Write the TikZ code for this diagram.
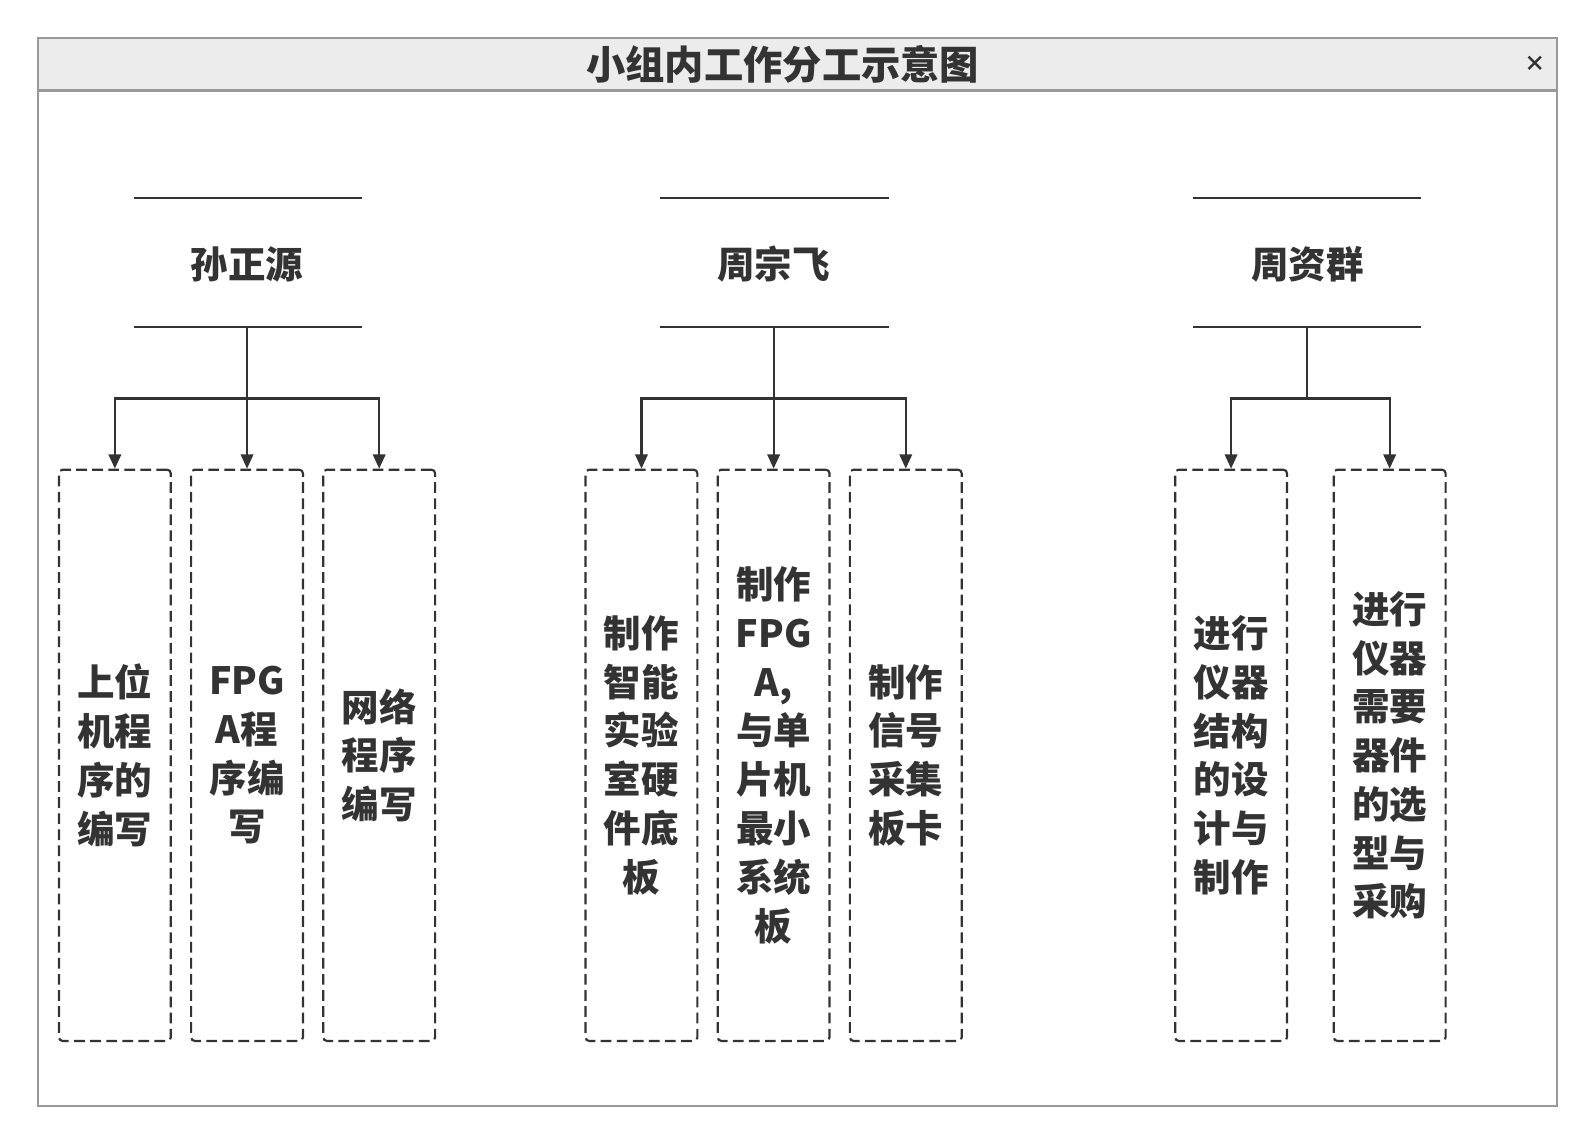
\documentclass[tikz,border=0pt]{standalone}
\usepackage{fontspec}
\setmainfont{Noto Sans CJK SC}[BoldFont={* Black}]
\usetikzlibrary{arrows.meta}
\definecolor{ink}{HTML}{333333}
\begin{document}
\begin{tikzpicture}[x=0.02cm,y=-0.02cm,
  txt/.style={text=ink,font=\fontsize{21}{27.3}\selectfont\bfseries,align=center},
  box/.style={draw=ink,line width=1.2pt,dash pattern=on 6pt off 3pt,rounded corners=2pt,minimum width=2.2cm,minimum height=11.24cm,inner sep=0pt,txt},
  rule/.style={draw=ink,line width=1.2pt},
  arr/.style={draw=ink,line width=1.2pt,-{Triangle[length=8pt,width=7pt]}}]
\useasboundingbox (0,0) rectangle (1568,1125);
\fill[white] (0,0) rectangle (1568,1125);
\draw[draw=gray!80,fill=gray!15,line width=1.2pt] (37,37) rectangle (1532,89);
\draw[draw=gray!80,line width=1.2pt] (37,89) rectangle (1532,1088);
\node[txt,font=\fontsize{22}{27}\selectfont\bfseries] (title) at (770,63) {小组内工作分工示意图};
\node[text=ink,font=\bfseries\large] (close) at (1510,63) {×};
% group names
\node[txt] (g1) at (243,260) {孙正源};
\node[txt] (g2) at (761,260) {周宗飞};
\node[txt] (g3) at (1286,260) {周资群};
\coordinate (g1t1) at (132,195); \coordinate (g1t2) at (356,195);
\coordinate (g1b1) at (132,322); \coordinate (g1b2) at (356,322);
\coordinate (g2t1) at (649,195); \coordinate (g2t2) at (874,195);
\coordinate (g2b1) at (649,322); \coordinate (g2b2) at (874,322);
\coordinate (g3t1) at (1174,195); \coordinate (g3t2) at (1398,195);
\coordinate (g3b1) at (1174,322); \coordinate (g3b2) at (1398,322);
\draw[rule] (g1t1)--(g1t2) (g1b1)--(g1b2) (g2t1)--(g2t2) (g2b1)--(g2b2) (g3t1)--(g3t2) (g3b1)--(g3b2);
% boxes
\node[box] (b1) at (113,743) {上位\\机程\\序的\\编写};
\node[box] (b2) at (243,743) {FPG\\A程\\序编\\写};
\node[box] (b3) at (373,743) {网络\\程序\\编写};
\node[box] (b4) at (631,743) {制作\\智能\\实验\\室硬\\件底\\板};
\node[box] (b5) at (761,743) {制作\\FPG\\A,\\与单\\片机\\最小\\系统\\板};
\node[box] (b6) at (891,743) {制作\\信号\\采集\\板卡};
\node[box] (b7) at (1211,743) {进行\\仪器\\结构\\的设\\计与\\制作};
\node[box] (b8) at (1367,743) {进行\\仪器\\需要\\器件\\的选\\型与\\采购};
% connectors
\coordinate (s1) at (243,322); \coordinate (s2) at (761,322); \coordinate (s3) at (1286,322);
\coordinate (j1) at (243,392); \coordinate (j2) at (761,392); \coordinate (j3) at (1286,392);
\draw[rule] (s1)--(j1) (s2)--(j2) (s3)--(j3);
\foreach \j/\b in {j1/b1,j1/b2,j1/b3,j2/b4,j2/b5,j2/b6,j3/b7,j3/b8}
  \draw[arr] (\j) -| (\b.north);
\end{tikzpicture}
\end{document}
